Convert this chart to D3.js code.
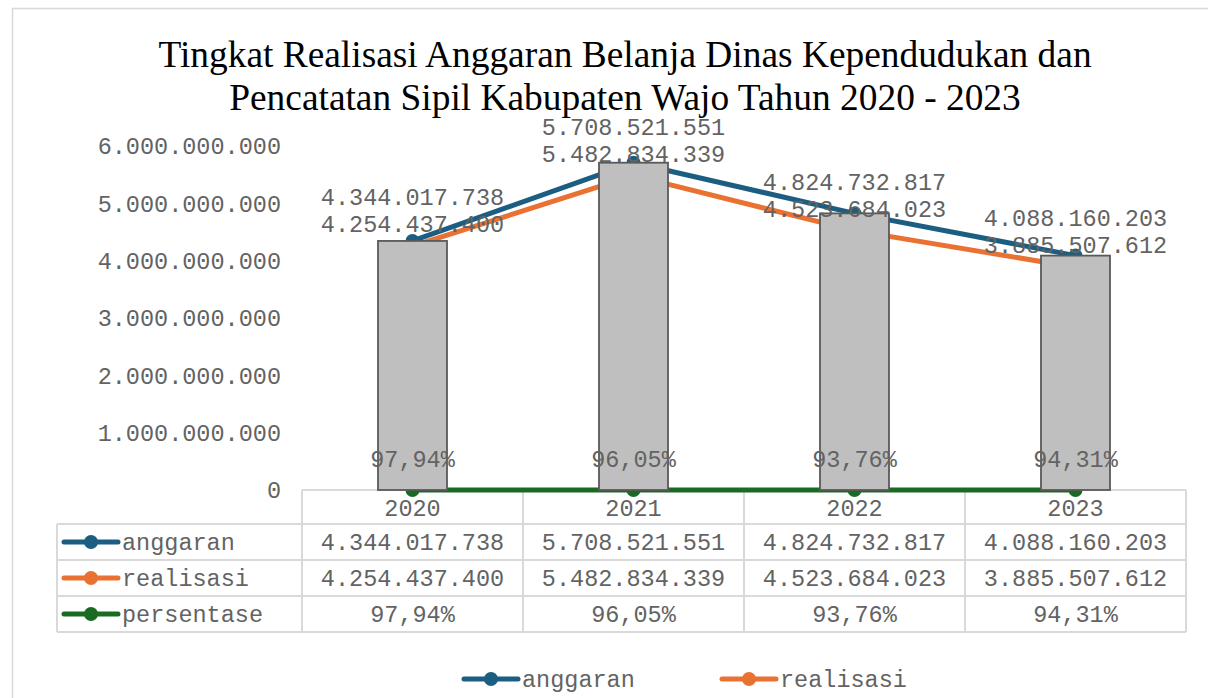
<!DOCTYPE html>
<html>
<head>
<meta charset="utf-8">
<script src="https://cdn.jsdelivr.net/npm/d3@7"></script>
<style>
  body { margin: 0; background: #fff; }
  text { font-family: "Liberation Mono", "Courier New", monospace; }
</style>
</head>
<body>
<div id="chart"></div>
<script>
// Data
const years = ["2020", "2021", "2022", "2023"];
const anggaran = [4344017738, 5708521551, 4824732817, 4088160203];
const realisasi = [4254437400, 5482834339, 4523684023, 3885507612];
const persentase = [97.94, 96.05, 93.76, 94.31];
const yTicks = [0, 1e9, 2e9, 3e9, 4e9, 5e9, 6e9];
const titleLines = ["Tingkat Realisasi Anggaran Belanja Dinas Kependudukan dan",
                    "Pencatatan Sipil Kabupaten Wajo Tahun 2020 - 2023"];

const W = 1208, H = 698;
const textColor = "#636363", gridColor = "#d9d9d9";
const colors = {anggaran: "#1b5e82", realisasi: "#e97132", persentase: "#196b24"};

// number formatting, Indonesian style
const fmtNum = d => d3.format(",")(d).replace(/,/g, ".");
const fmtPct = d => d.toFixed(2).replace(".", ",") + "%";

const svg = d3.select("#chart").append("svg")
    .attr("width", W)
    .attr("height", H);

// chart border
svg.append("rect")
    .attr("x", 12.5).attr("y", 8.5)
    .attr("width", 1210).attr("height", 710)
    .attr("fill", "#fff")
    .attr("stroke", gridColor)
    .attr("stroke-width", 1.5);

// Title
svg.append("text")
    .attr("x", 625)
    .attr("text-anchor", "middle")
    .style("font-family", "'Liberation Serif', 'Times New Roman', serif")
    .style("font-size", "37.4px")
    .attr("fill", "#000")
    .selectAll("tspan")
    .data(titleLines)
    .join("tspan")
    .attr("x", 625)
    .attr("y", (d, i) => 67 + i * 43)
    .text(d => d);

// Scales
const x = d3.scaleBand()
    .domain(years)
    .range([302, 1186]);

const y = d3.scaleLinear()
    .domain([0, 6e9])
    .range([490, 146]);

// Persentase plotted on same axis (values are tiny)
const rows = years.map((yr, i) => ({
    year: yr, anggaran: anggaran[i], realisasi: realisasi[i], persentase: persentase[i]
}));

const cx = d => x(d.year) + x.bandwidth() / 2;

// Y axis labels
svg.append("g")
    .selectAll("text")
    .data(yTicks)
    .join("text")
    .attr("x", 281)
    .attr("y", d => y(d))
    .attr("dy", "0.35em")
    .attr("text-anchor", "end")
    .attr("fill", textColor)
    .style("font-size", "23.5px")
    .text(d => fmtNum(d));

// Data table grid (drawn first so the lines sit on top)
const tableLeft = 57, tableRight = 1186;
const rowTops = [490, 524, 560, 596, 632];
const table = svg.append("g");

table.selectAll(".hline")
    .data(rowTops)
    .join("line")
    .attr("x1", (d, i) => i === 0 ? x.range()[0] : tableLeft)
    .attr("x2", tableRight)
    .attr("y1", d => d)
    .attr("y2", d => d)
    .attr("stroke", gridColor)
    .attr("stroke-width", 2);

const colEdges = years.map(yr => x(yr)).concat([tableRight]);
table.selectAll(".vline")
    .data(colEdges)
    .join("line")
    .attr("x1", d => d)
    .attr("x2", d => d)
    .attr("y1", rowTops[0])
    .attr("y2", rowTops[4])
    .attr("stroke", gridColor)
    .attr("stroke-width", 2);
table.append("line")
    .attr("x1", tableLeft).attr("x2", tableLeft)
    .attr("y1", rowTops[1]).attr("y2", rowTops[4])
    .attr("stroke", gridColor)
    .attr("stroke-width", 2);

// Lines + markers (drawn below bars)
const series = ["persentase", "realisasi", "anggaran"];
series.forEach(key => {
    svg.append("path")
        .datum(rows)
        .attr("fill", "none")
        .attr("stroke", colors[key])
        .attr("stroke-width", 5)
        .attr("stroke-linejoin", "round")
        .attr("d", d3.line().x(cx).y(d => y(d[key])));
    svg.append("g")
        .selectAll("circle")
        .data(rows)
        .join("circle")
        .attr("cx", cx)
        .attr("cy", d => y(d[key]))
        .attr("r", 7)
        .attr("fill", colors[key]);
});

// Bars (anggaran columns)
const barW = 69;
svg.append("g")
    .selectAll("rect")
    .data(rows)
    .join("rect")
    .attr("x", d => cx(d) - barW / 2)
    .attr("y", d => y(d.anggaran))
    .attr("width", barW)
    .attr("height", d => y(0) - y(d.anggaran))
    .attr("fill", "#bfbfbf")
    .attr("stroke", "#595959")
    .attr("stroke-width", 1.8);

// Data labels
const labels = svg.append("g")
    .attr("fill", textColor)
    .attr("text-anchor", "middle")
    .style("font-size", "23.5px");

labels.selectAll(".lbl-real")
    .data(rows)
    .join("text")
    .attr("class", "lbl-real")
    .attr("x", cx)
    .attr("y", d => y(d.realisasi) - 22)
    .attr("dy", "0.35em")
    .text(d => fmtNum(d.realisasi));

labels.selectAll(".lbl-ang")
    .data(rows)
    .join("text")
    .attr("class", "lbl-ang")
    .attr("x", cx)
    .attr("y", d => y(d.realisasi) - 49)
    .attr("dy", "0.35em")
    .text(d => fmtNum(d.anggaran));

labels.selectAll(".lbl-pct")
    .data(rows)
    .join("text")
    .attr("class", "lbl-pct")
    .attr("x", cx)
    .attr("y", y(0) - 31)
    .attr("dy", "0.35em")
    .text(d => fmtPct(d.persentase));

// year headers
table.selectAll(".yr")
    .data(years)
    .join("text")
    .attr("x", d => x(d) + x.bandwidth() / 2)
    .attr("y", (rowTops[0] + rowTops[1]) / 2 + 1)
    .attr("dy", "0.35em")
    .attr("text-anchor", "middle")
    .attr("fill", textColor)
    .style("font-size", "23.5px")
    .text(d => d);

// table rows
const tableSeries = [
    {key: "anggaran", fmt: fmtNum},
    {key: "realisasi", fmt: fmtNum},
    {key: "persentase", fmt: fmtPct}
];
tableSeries.forEach((s, r) => {
    const midY = (rowTops[r + 1] + rowTops[r + 2]) / 2;
    // legend key
    table.append("line")
        .attr("x1", 64).attr("x2", 118)
        .attr("y1", midY).attr("y2", midY)
        .attr("stroke", colors[s.key])
        .attr("stroke-width", 5)
        .attr("stroke-linecap", "round");
    table.append("circle")
        .attr("cx", 91).attr("cy", midY).attr("r", 7)
        .attr("fill", colors[s.key]);
    table.append("text")
        .attr("x", 122).attr("y", midY)
        .attr("dy", "0.35em")
        .attr("fill", textColor)
        .style("font-size", "23.5px")
        .text(s.key);
    table.selectAll(".cell-" + s.key)
        .data(rows)
        .join("text")
        .attr("x", cx)
        .attr("y", midY)
        .attr("dy", "0.35em")
        .attr("text-anchor", "middle")
        .attr("fill", textColor)
        .style("font-size", "23.5px")
        .text(d => s.fmt(d[s.key]));
});

// Bottom legend
const legendItems = [{key: "anggaran", x: 462}, {key: "realisasi", x: 720}];
const legend = svg.append("g");
legendItems.forEach(item => {
    legend.append("line")
        .attr("x1", item.x + 2).attr("x2", item.x + 56)
        .attr("y1", 679).attr("y2", 679)
        .attr("stroke", colors[item.key])
        .attr("stroke-width", 5)
        .attr("stroke-linecap", "round");
    legend.append("circle")
        .attr("cx", item.x + 29).attr("cy", 679).attr("r", 7)
        .attr("fill", colors[item.key]);
    legend.append("text")
        .attr("x", item.x + 60).attr("y", 679)
        .attr("dy", "0.35em")
        .attr("fill", textColor)
        .style("font-size", "23.5px")
        .text(item.key);
});
</script>
</body>
</html>
